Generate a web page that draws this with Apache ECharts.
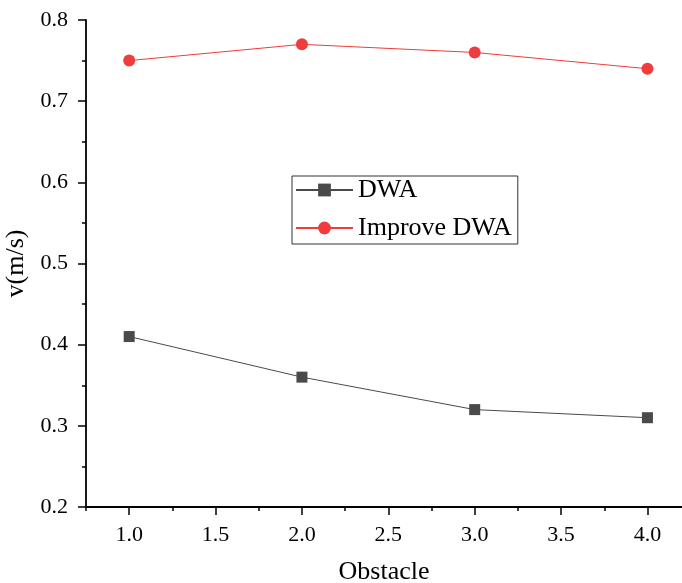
<!DOCTYPE html>
<html><head><meta charset="utf-8">
<script src="https://cdn.jsdelivr.net/npm/echarts@6/dist/echarts.min.js"></script>
<style>html,body{margin:0;padding:0;background:#fff}#c{width:682px;height:583px}</style>
</head><body><div id="c"></div>
<script>
const obstacles = [1, 2, 3, 4];
const dwa = [0.41, 0.36, 0.32, 0.31];
const improveDwa = [0.75, 0.77, 0.76, 0.74];
const xMajorTicks = [1, 1.5, 2, 2.5, 3, 3.5, 4];
const xMinorTicks = [0.75, 1.25, 1.75, 2.25, 2.75, 3.25, 3.75];

const font = 'Liberation Serif';
const chart = echarts.init(document.getElementById('c'));
chart.setOption({
  animation: false,
  grid: {left: 86, right: 0, top: 20, bottom: 76, containLabel: false, outerBoundsMode: 'none'},
  xAxis: [{
    type: 'value', min: 0.75, max: 4.2, position: 'bottom',
    name: 'Obstacle', nameLocation: 'middle', nameGap: 52,
    nameTextStyle: {fontFamily: font, fontSize: 26, color: '#000'},
    axisLine: {lineStyle: {color: '#000', width: 1.8}},
    axisTick: {show: true, length: 8, customValues: xMajorTicks, lineStyle: {color: '#000', width: 1.5}},
    axisLabel: {customValues: xMajorTicks, formatter: v => v.toFixed(1), fontFamily: font, fontSize: 22, color: '#000', margin: 17},
    splitLine: {show: false}
  }, {
    type: 'value', min: 0.75, max: 4.2, position: 'bottom', offset: 0,
    axisLine: {show: false},
    axisTick: {show: true, length: 4, customValues: xMinorTicks, lineStyle: {color: '#000', width: 1.5}},
    axisLabel: {show: false},
    splitLine: {show: false}
  }],
  yAxis: {
    type: 'value', min: 0.2, max: 0.8, interval: 0.1,
    name: 'v(m/s)', nameLocation: 'middle', nameGap: 53,
    nameTextStyle: {fontFamily: font, fontSize: 26, color: '#000'},
    axisLine: {show: true, lineStyle: {color: '#000', width: 1.8}},
    axisTick: {show: true, length: 8, lineStyle: {color: '#000', width: 1.5}},
    minorTick: {show: true, splitNumber: 2, length: 4, lineStyle: {color: '#000', width: 1.5}},
    axisLabel: {formatter: v => v.toFixed(1), fontFamily: font, fontSize: 22, color: '#000', margin: 18},
    splitLine: {show: false}
  },
  legend: {
    orient: 'vertical', left: 292, top: 176,
    itemWidth: 57, itemHeight: 16, itemGap: 12,
    padding: [1, 6, 3, 3],
    borderColor: '#333', borderWidth: 1,
    textStyle: {fontFamily: font, fontSize: 26, color: '#000'},
    data: ['DWA', 'Improve DWA']
  },
  series: [{
    name: 'DWA', type: 'line',
    data: obstacles.map((x, i) => [x, dwa[i]]),
    symbol: 'rect', symbolSize: 11,
    itemStyle: {color: '#4a4a4a'},
    lineStyle: {color: '#4a4a4a', width: 1}
  }, {
    name: 'Improve DWA', type: 'line',
    data: obstacles.map((x, i) => [x, improveDwa[i]]),
    symbol: 'circle', symbolSize: 12,
    itemStyle: {color: '#f03c3c'},
    lineStyle: {color: '#f03c3c', width: 1}
  }]
});
</script></body></html>
